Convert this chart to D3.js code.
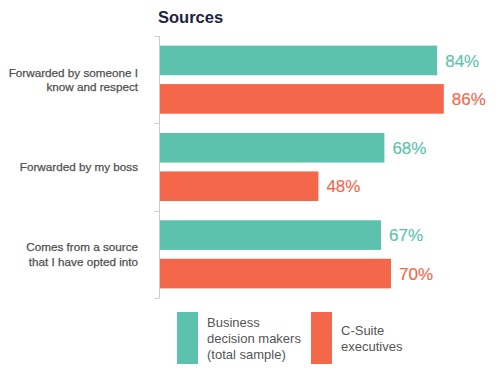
<!DOCTYPE html>
<html>
<head>
<meta charset="utf-8">
<script src="https://cdn.jsdelivr.net/npm/d3@7"></script>
<style>
  body { margin: 0; background: #fff; }
  svg { display: block; font-family: "Liberation Sans", Arial, sans-serif; }
</style>
</head>
<body>
<svg class="chart"></svg>
<script>
var categories = [
  ["Forwarded by someone I", "know and respect"],
  ["Forwarded by my boss"],
  ["Comes from a source", "that I have opted into"]
];
var seriesNames = ["Business decision makers (total sample)", "C-Suite executives"];
var legendLines = [["Business", "decision makers", "(total sample)"], ["C-Suite", "executives"]];
var businessValues = [84, 68, 67];
var csuiteValues = [86, 48, 70];
var colors = ["#5cc2ad", "#f4674b"];

var width = 500, height = 372;

var svg = d3.select(".chart")
    .attr("width", width)
    .attr("height", height);

var catKeys = categories.map(function(d, i) { return i; });

// outer band per category, inner band per series
var y0 = d3.scaleBand()
    .domain(catKeys)
    .range([36, 298])
    .padding(0);

var y1 = d3.scaleBand()
    .domain([0, 1])
    .range([0, y0.bandwidth()])
    .paddingInner(0.23)
    .paddingOuter(0.25);

var x = d3.scaleLinear()
    .domain([0, 100])
    .range([160, 490]);

//title
svg.append("text")
    .attr("x", 158)
    .attr("y", 23)
    .style("font-size", "16.5px")
    .style("font-weight", "bold")
    .style("fill", "#1b2541")
    .text("Sources");

//axis line and ticks
var axisX = 159.5;
svg.append("line")
    .attr("x1", axisX).attr("x2", axisX)
    .attr("y1", y0.range()[0]).attr("y2", y0.range()[1])
    .style("stroke", "#cccccc");

var tickYs = catKeys.map(function(d) { return y0(d); }).concat([y0.range()[1]]);
svg.selectAll(".tick")
    .data(tickYs)
    .enter().append("line")
    .attr("class", "tick")
    .attr("x1", axisX - 5).attr("x2", axisX)
    .attr("y1", function(d) { return Math.round(d) + 0.5; })
    .attr("y2", function(d) { return Math.round(d) + 0.5; })
    .style("stroke", "#cccccc");

//category labels (slight stroke to mimic the medium weight)
var label = svg.selectAll(".cat")
    .data(categories)
    .enter().append("text")
    .attr("class", "cat")
    .attr("text-anchor", "end")
    .style("font-size", "11.7px")
    .style("fill", "#505050")
    .style("stroke", "#505050")
    .style("stroke-width", "0.25px")
    .attr("transform", function(d, i) {
      var c = y0(i) + y0.bandwidth() / 2;
      return "translate(138," + c + ")";
    });

label.selectAll("tspan")
    .data(function(d) { return d.map(function(t, j) { return {t: t, j: j, n: d.length}; }); })
    .enter().append("tspan")
    .attr("x", 0)
    .attr("y", function(d) { return d.n === 1 ? 4 : (d.j === 0 ? -3 : 11.5); })
    .text(function(d) { return d.t; });

//bars
var rows = categories.map(function(d, i) {
  return [businessValues[i], csuiteValues[i]];
});

var group = svg.selectAll(".grp")
    .data(rows)
    .enter().append("g")
    .attr("class", "grp")
    .attr("transform", function(d, i) { return "translate(0," + y0(i) + ")"; });

var bar = group.selectAll("g")
    .data(function(d) { return d.map(function(v, s) { return {v: v, s: s}; }); })
    .enter().append("g");

bar.append("rect")
    .attr("x", x(0))
    .attr("y", function(d) { return y1(d.s); })
    .attr("width", function(d) { return x(d.v) - x(0); })
    .attr("height", y1.bandwidth())
    .style("fill", function(d) { return colors[d.s]; });

bar.append("text")
    .attr("x", function(d) { return x(d.v) + 8; })
    .attr("y", function(d) { return y1(d.s) + y1.bandwidth() / 2; })
    .attr("dy", "0.36em")
    .style("font-size", "17px")
    .style("fill", function(d) { return colors[d.s]; })
    .style("stroke", function(d) { return colors[d.s]; })
    .style("stroke-width", "0.15px")
    .text(function(d) { return d.v + "%"; });

//legend
var legendX = [177, 311];
var legend = svg.selectAll(".legend")
    .data(seriesNames)
    .enter().append("g")
    .attr("class", "legend")
    .attr("transform", function(d, i) { return "translate(" + legendX[i] + ",312)"; });

legend.append("rect")
    .attr("width", 21)
    .attr("height", 52)
    .style("fill", function(d, i) { return colors[i]; });

legend.append("text")
    .style("font-size", "13px")
    .style("fill", "#555555")
    .selectAll("tspan")
    .data(function(d, i) { return legendLines[i].map(function(t, j) { return {t: t, j: j, n: legendLines[i].length}; }); })
    .enter().append("tspan")
    .attr("x", 30)
    .attr("y", function(d) { return 26 + (d.j - (d.n - 1) / 2) * 16 + 4.5; })
    .text(function(d) { return d.t; });
</script>
</body>
</html>
